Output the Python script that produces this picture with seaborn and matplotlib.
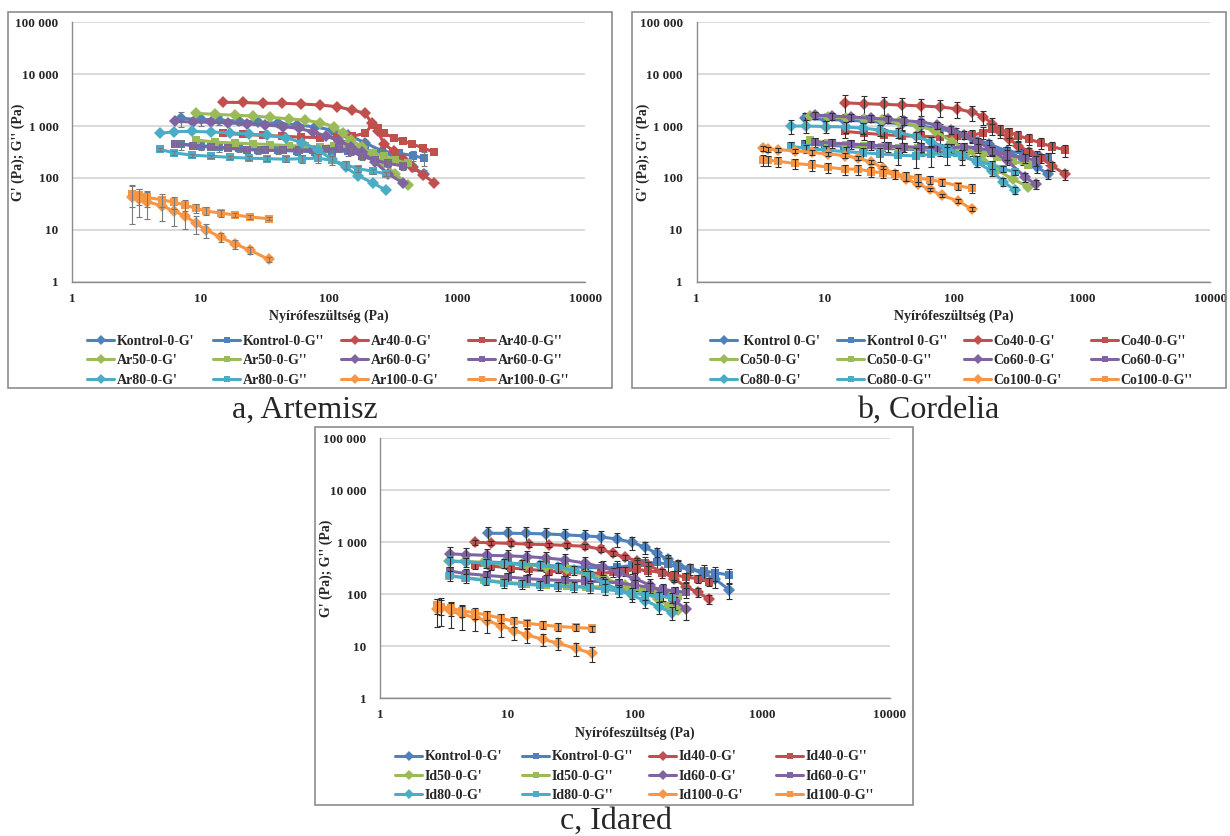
import matplotlib
matplotlib.use('Agg')
import matplotlib.pyplot as plt
import seaborn as sns
from matplotlib.patches import Rectangle
from matplotlib.ticker import NullLocator

# ---------------- Artemisz ----------------
ar_kontrol_x = [7, 10, 14, 20, 28, 40, 56, 78, 105, 140, 190, 260, 350, 450, 550]
ar_kontrol_g1 = [1400, 1350, 1300, 1250, 1200, 1130, 1060, 960, 840, 680, 480, 330, 230, 160, 120]
ar_kontrol_g2 = [450, 420, 390, 370, 350, 340, 330, 320, 320, 330, 340, 320, 300, 270, 240]
ar_kontrol_e1 = [450, 350, 250, 200, 150, 120, 100, 90, 80, 60, 50, 40, 30, 25, 20]
ar_kontrol_e2 = [100, 80, 70, 60, 60, 50, 50, 50, 60, 60, 60, 60, 60, 60, 70]

ar40_x = [15, 21.5, 30.5, 43, 61, 85, 116, 152, 192, 216, 240, 270, 320, 380, 445, 545, 660]
ar40_g1 = [2870, 2850, 2750, 2750, 2660, 2550, 2360, 2040, 1760, 1130, 800, 450, 330, 230, 165, 114, 81]
ar40_g2 = [720, 690, 660, 640, 610, 600, 610, 640, 720, 1050, 900, 720, 600, 520, 450, 380, 310]

ar50_x = [9.2, 13, 18.7, 25.7, 35, 48.6, 65, 86, 110, 128, 150, 180, 220, 270, 330, 417]
ar50_g1 = [1760, 1680, 1620, 1560, 1470, 1380, 1300, 1160, 980, 720, 530, 400, 290, 190, 120, 72]
ar50_g2 = [540, 490, 470, 455, 440, 420, 410, 400, 420, 450, 430, 360, 300, 260, 220, 190]

ar60_x = [6.3, 8.7, 12, 16.5, 23, 32, 44, 58, 75, 95, 120, 150, 180, 230, 290, 380]
ar60_g1 = [1230, 1200, 1180, 1150, 1100, 1050, 980, 900, 780, 640, 520, 400, 320, 200, 120, 80]
ar60_g2 = [460, 420, 390, 370, 350, 340, 340, 345, 350, 360, 370, 330, 260, 220, 190, 170]
ar60_e2 = [60, 50, 40, 40, 40, 40, 40, 40, 40, 50, 60, 50, 40, 30, 30, 30]

ar80_x = [4.8, 6.2, 8.5, 12, 17, 24, 33, 46, 62, 82, 105, 135, 170, 220, 280]
ar80_g1 = [720, 780, 790, 770, 740, 700, 660, 600, 480, 350, 230, 160, 110, 80, 58]
ar80_g2 = [355, 305, 275, 262, 250, 240, 235, 230, 235, 240, 220, 180, 150, 135, 120]
ar80_e2 = [30, 25, 20, 20, 20, 20, 25, 30, 40, 50, 40, 30, 20, 15, 10]

ar100_x = [2.9, 3.3, 3.8, 5.0, 6.2, 7.6, 9.2, 11.1, 14.3, 18.7, 24.5, 34]
ar100_g1 = [43, 40, 35, 29, 23, 18.5, 13.3, 9.9, 7.2, 5.3, 4.0, 2.7]
ar100_g2 = [49, 46, 42, 38, 34, 30, 26, 23, 21, 19.3, 17.6, 16.4]
ar100_e1 = [30, 22, 19, 14, 11, 8, 5, 3, 1.5, 1, 0.6, 0.3]
ar100_e2 = [22, 16, 14, 11, 9, 7, 5, 4, 3, 2, 1.5, 1]

# ---------------- Cordelia ----------------
co_kontrol_x = [7, 10, 14, 20, 28, 40, 56, 78, 105, 140, 190, 260, 350, 450, 545]
co_kontrol_g1 = [1400, 1350, 1300, 1250, 1180, 1100, 1000, 880, 750, 600, 450, 330, 230, 160, 120]
co_kontrol_g2 = [450, 430, 410, 390, 370, 360, 350, 340, 340, 340, 350, 330, 300, 270, 240]
co_kontrol_e1 = [400, 350, 300, 300, 280, 250, 230, 200, 170, 130, 100, 70, 50, 35, 25]
co_kontrol_e2 = [100, 100, 90, 90, 80, 80, 80, 80, 80, 80, 80, 70, 60, 60, 60]

co40_x = [14.3, 20, 29, 40, 56, 78, 106, 140, 170, 200, 230, 270, 320, 390, 480, 590, 740]
co40_g1 = [2800, 2700, 2620, 2540, 2440, 2340, 2150, 1850, 1520, 1120, 800, 560, 420, 320, 240, 170, 118]
co40_g2 = [790, 730, 680, 650, 630, 620, 640, 660, 750, 880, 850, 760, 650, 560, 470, 400, 345]
co40_e1 = [1100, 1050, 1000, 950, 900, 850, 750, 600, 450, 300, 200, 130, 90, 60, 45, 35, 25]
co40_e2 = [200, 190, 180, 170, 160, 160, 160, 170, 190, 200, 190, 170, 150, 130, 110, 100, 90]

co50_x = [7.7, 10.5, 14.5, 20, 28, 38, 53, 72, 98, 130, 170, 220, 290, 380]
co50_g1 = [1560, 1500, 1450, 1380, 1300, 1180, 1020, 800, 500, 330, 210, 140, 95, 68]
co50_g2 = [530, 470, 440, 420, 400, 380, 370, 360, 350, 340, 300, 250, 210, 180]

co60_x = [8.3, 11.3, 16, 22.8, 31, 41, 56, 74, 95, 121, 155, 200, 260, 360, 437]
co60_g1 = [1630, 1560, 1500, 1420, 1340, 1270, 1200, 1050, 850, 680, 500, 340, 220, 105, 75]
co60_g2 = [500, 470, 450, 430, 410, 400, 390, 380, 380, 400, 380, 330, 280, 240, 220]
co60_e1 = [250, 240, 230, 220, 210, 200, 190, 170, 150, 120, 90, 60, 40, 20, 15]
co60_e2 = [100, 100, 90, 90, 90, 80, 80, 80, 80, 80, 80, 70, 60, 50, 50]

co80_x = [5.45, 7.1, 10.2, 14.5, 19.8, 27, 37, 51, 67, 89, 116, 153, 198, 245, 300]
co80_g1 = [1000, 1000, 980, 960, 910, 840, 750, 630, 500, 380, 280, 200, 135, 85, 58]
co80_g2 = [410, 370, 345, 320, 305, 290, 275, 265, 285, 290, 260, 210, 180, 150, 130]
co80_e1 = [300, 280, 260, 240, 220, 200, 170, 140, 110, 80, 60, 40, 25, 15, 10]
co80_e2 = [80, 70, 70, 70, 80, 90, 100, 110, 120, 110, 80, 50, 30, 20, 15]

co100_x = [3.3, 3.6, 4.3, 5.8, 7.9, 10.6, 14.3, 18.2, 23, 28.5, 35, 43, 53, 66, 81, 109, 139]
co100_g1 = [370, 360, 350, 335, 310, 290, 270, 240, 200, 155, 120, 95, 76, 60, 46, 36, 25]
co100_g2 = [225, 220, 210, 190, 178, 160, 148, 148, 132, 126, 120, 108, 100, 92, 84, 70, 64]
co100_e1 = [40, 38, 35, 33, 30, 28, 26, 22, 18, 14, 11, 9, 7, 5, 4, 3, 2]
co100_e2 = [55, 50, 45, 42, 40, 36, 33, 32, 28, 26, 24, 20, 18, 15, 13, 11, 12]

# ---------------- Idared ----------------
id_kontrol_x = [7, 10, 14, 20, 28, 40, 54, 72, 95, 119, 147, 180, 217, 270, 344, 426, 547]
id_kontrol_g1 = [1490, 1490, 1480, 1450, 1390, 1330, 1270, 1150, 1000, 800, 620, 470, 370, 310, 250, 195, 121]
id_kontrol_g2 = [420, 400, 380, 360, 340, 330, 320, 330, 360, 400, 410, 380, 330, 300, 280, 260, 235]
id_kontrol_e1 = [500, 500, 480, 470, 440, 420, 400, 350, 280, 200, 150, 110, 90, 80, 70, 60, 40]
id_kontrol_e2 = [100, 100, 100, 90, 90, 90, 90, 100, 110, 120, 120, 110, 100, 90, 90, 80, 70]

id40_x = [5.5, 7.4, 10.6, 14.7, 21, 29, 40, 54, 67, 83, 103, 127, 163, 202, 249, 309, 383]
id40_g1 = [1000, 980, 950, 920, 900, 870, 840, 740, 610, 515, 440, 360, 270, 200, 140, 110, 80]
id40_g2 = [370, 350, 320, 300, 280, 265, 255, 255, 265, 280, 300, 285, 260, 235, 215, 200, 175]
id40_e1 = [100, 100, 90, 90, 90, 90, 90, 80, 70, 60, 60, 50, 40, 30, 25, 20, 15]
id40_e2 = [60, 55, 50, 50, 50, 50, 50, 50, 50, 60, 150, 60, 50, 45, 40, 35, 30]

id50_x = [3.44, 4.6, 6.5, 9.3, 13.8, 20, 29, 41, 58, 83, 117, 150, 185, 217]
id50_g1 = [440, 430, 410, 390, 370, 340, 300, 250, 200, 150, 110, 80, 60, 50]
id50_g2 = [225, 210, 190, 170, 160, 150, 145, 140, 140, 130, 120, 105, 98, 93]

id60_x = [3.5, 4.7, 6.9, 10, 14.1, 20, 28, 40, 56, 75, 100, 130, 165, 205, 250]
id60_g1 = [600, 580, 560, 550, 530, 500, 460, 400, 330, 260, 200, 150, 110, 75, 52]
id60_g2 = [280, 250, 230, 215, 200, 190, 185, 180, 175, 165, 150, 135, 125, 115, 110]
id60_e1 = [200, 190, 180, 170, 160, 150, 140, 120, 100, 80, 60, 45, 35, 25, 20]
id60_e2 = [60, 50, 45, 40, 40, 40, 40, 40, 40, 35, 35, 30, 30, 25, 25]

id80_x = [3.5, 4.7, 6.8, 9.4, 13, 18, 25, 33, 44, 58, 75, 95, 120, 155, 194]
id80_g1 = [430, 420, 400, 395, 380, 360, 330, 290, 230, 160, 120, 95, 75, 57, 44]
id80_g2 = [230, 205, 183, 165, 155, 150, 145, 140, 135, 125, 115, 105, 98, 92, 88]
id80_e1 = [100, 90, 80, 80, 80, 70, 70, 60, 50, 40, 30, 25, 20, 15, 12]
id80_e2 = [50, 40, 35, 30, 30, 30, 30, 30, 30, 30, 25, 25, 20, 20, 20]

id100_x = [2.8, 3.0, 3.6, 4.4, 5.5, 6.9, 8.9, 11.2, 14.1, 18.9, 25, 34, 46]
id100_g1 = [52, 55, 47, 41, 36, 31, 25, 20, 16.5, 13.6, 11.4, 9.1, 7.3]
id100_g2 = [62, 58, 54, 48, 44, 40, 34.5, 30, 27.7, 25.7, 24, 23, 22]
id100_e1 = [28, 30, 25, 20, 16, 13, 10, 7, 5, 3.5, 3, 2.5, 2.2]
id100_e2 = [20, 18, 15, 12, 10, 8, 7, 6, 5, 4.5, 4, 3.5, 3]

# excel 2007 palette
colors = ['#4F81BD', '#C0504D', '#9BBB59', '#8064A2', '#4BACC6', '#F79646']
y_ticks = [1, 10, 100, 1000, 10000, 100000]
y_ticklabels = ['1', '10', '100', '1 000', '10 000', '100 000']
x_ticks = [1, 10, 100, 1000, 10000]
x_ticklabels = ['1', '10', '100', '1000', '10000']

sns.set_style('white')
plt.rcParams['font.family'] = ['Liberation Serif', 'DejaVu Serif']

W, H = 1230, 836
fig = plt.figure(figsize=(W / 100, H / 100), dpi=100)


def fx(px):
    return px / W


def fy(py):
    return 1 - py / H


panels = [
    dict(
        box=(72.3, 22.3, 585.4, 281.7), frame=(7.5, 12, 612, 388.3),
        leg_x=[87, 213, 341, 468], leg_top=335, ecolor='#7a7a7a',
        xlab_y=316.5, ylab_x=17.8,
        caption='a, Artemisz', cap=(305, 418),
        series=[
            ("Kontrol-0-G'", "Kontrol-0-G''", ar_kontrol_x, ar_kontrol_g1, ar_kontrol_g2, ar_kontrol_e1, ar_kontrol_e2),
            ("Ar40-0-G'", "Ar40-0-G''", ar40_x, ar40_g1, ar40_g2, None, None),
            ("Ar50-0-G'", "Ar50-0-G''", ar50_x, ar50_g1, ar50_g2, None, None),
            ("Ar60-0-G'", "Ar60-0-G''", ar60_x, ar60_g1, ar60_g2, None, ar60_e2),
            ("Ar80-0-G'", "Ar80-0-G''", ar80_x, ar80_g1, ar80_g2, None, ar80_e2),
            ("Ar100-0-G'", "Ar100-0-G''", ar100_x, ar100_g1, ar100_g2, ar100_e1, ar100_e2),
        ]),
    dict(
        box=(696.6, 22.3, 1210.3, 281.7), frame=(631.5, 12, 1226, 388),
        leg_x=[710, 837, 964, 1091], leg_top=335, ecolor='#303030',
        xlab_y=316.5, ylab_x=643.3,
        caption='b, Cordelia', cap=(928, 418),
        series=[
            (" Kontrol 0-G'", "Kontrol 0-G''", co_kontrol_x, co_kontrol_g1, co_kontrol_g2, co_kontrol_e1, co_kontrol_e2),
            ("Co40-0-G'", "Co40-0-G''", co40_x, co40_g1, co40_g2, co40_e1, co40_e2),
            ("Co50-0-G'", "Co50-0-G''", co50_x, co50_g1, co50_g2, None, None),
            ("Co60-0-G'", "Co60-0-G''", co60_x, co60_g1, co60_g2, co60_e1, co60_e2),
            ("Co80-0-G'", "Co80-0-G''", co80_x, co80_g1, co80_g2, co80_e1, co80_e2),
            ("Co100-0-G'", "Co100-0-G''", co100_x, co100_g1, co100_g2, co100_e1, co100_e2),
        ]),
    dict(
        box=(380.4, 438.3, 890, 698.3), frame=(314.5, 427, 913, 805),
        leg_x=[395, 522, 649, 776], leg_top=750.5, ecolor='#303030',
        xlab_y=733, ylab_x=325.8,
        caption='c, Idared', cap=(616, 829),
        series=[
            ("Kontrol-0-G'", "Kontrol-0-G''", id_kontrol_x, id_kontrol_g1, id_kontrol_g2, id_kontrol_e1, id_kontrol_e2),
            ("Id40-0-G'", "Id40-0-G''", id40_x, id40_g1, id40_g2, id40_e1, id40_e2),
            ("Id50-0-G'", "Id50-0-G''", id50_x, id50_g1, id50_g2, None, None),
            ("Id60-0-G'", "Id60-0-G''", id60_x, id60_g1, id60_g2, id60_e1, id60_e2),
            ("Id80-0-G'", "Id80-0-G''", id80_x, id80_g1, id80_g2, id80_e1, id80_e2),
            ("Id100-0-G'", "Id100-0-G''", id100_x, id100_g1, id100_g2, id100_e1, id100_e2),
        ]),
]

for p in panels:
    x0, y0, x1, y1 = p['box']
    ax = fig.add_axes([fx(x0), fy(y1), (x1 - x0) / W, (y1 - y0) / H])
    ax.set_xscale('log')
    ax.set_yscale('log')

    for i, (lab1, lab2, xs, g1, g2, e1, e2) in enumerate(p['series']):
        c = colors[i]
        # G' with diamonds, G'' with squares
        for lab, ys, err, mk, ms in [(lab1, g1, e1, 'D', 6.3), (lab2, g2, e2, 's', 6.0)]:
            sns.lineplot(x=xs, y=ys, ax=ax, color=c, marker=mk, markersize=ms,
                         markeredgewidth=0, linewidth=2.2, label=lab,
                         estimator=None, sort=False, legend=False)
            if err is not None:
                ax.errorbar(xs, ys, yerr=err, fmt='none', ecolor=p['ecolor'],
                            elinewidth=0.8, capsize=2.5, capthick=0.8)

    ax.set_xlim(1, 10000)
    ax.set_ylim(1, 100000)
    ax.set_xticks(x_ticks)
    ax.set_xticklabels(x_ticklabels)
    ax.set_yticks(y_ticks)
    ax.set_yticklabels(y_ticklabels)
    ax.xaxis.set_minor_locator(NullLocator())
    ax.yaxis.set_minor_locator(NullLocator())
    ax.set_axisbelow(True)
    ax.yaxis.grid(True, color='#cfcfcf', linewidth=1.1)
    ax.xaxis.grid(False)
    for s in ['top', 'right']:
        ax.spines[s].set_visible(False)
    for s in ['left', 'bottom']:
        ax.spines[s].set_color('#8c8c8c')
        ax.spines[s].set_linewidth(1.0)
    ax.tick_params(axis='both', which='major', length=4, width=1, color='#8c8c8c',
                   labelsize=9.5, direction='out')
    ax.tick_params(axis='y', pad=6)
    ax.tick_params(axis='x', pad=4)
    for t in ax.get_xticklabels() + ax.get_yticklabels():
        t.set_fontweight('bold')

    ax.set_xlabel('Nyírófeszültség (Pa)', fontsize=10, fontweight='bold', va='center')
    ax.set_ylabel("G' (Pa); G'' (Pa)", fontsize=10, fontweight='bold', va='center')
    ax.xaxis.set_label_coords(0.5, -(p['xlab_y'] - y1) / (y1 - y0))
    ax.yaxis.set_label_coords((p['ylab_x'] - x0) / (x1 - x0), 0.5)

    handles, labels = ax.get_legend_handles_labels()
    # excel fills the legend row by row, so one legend per column
    for j in range(4):
        idx = [j, j + 4, j + 8]
        fig.legend([handles[k] for k in idx], [labels[k] for k in idx],
                   loc='upper left', bbox_to_anchor=(fx(p['leg_x'][j]), fy(p['leg_top'])),
                   frameon=False, borderpad=0, borderaxespad=0, handlelength=1.95,
                   handletextpad=0.2, labelspacing=0.45, markerscale=0.8,
                   prop=dict(weight='bold', size=10))

    fx0, fy0, fx1, fy1 = p['frame']
    fig.add_artist(Rectangle((fx(fx0), fy(fy1)), (fx1 - fx0) / W, (fy1 - fy0) / H,
                             transform=fig.transFigure, fill=False,
                             edgecolor='#8c8c8c', linewidth=1.2))
    fig.text(fx(p['cap'][0]), fy(p['cap'][1]), p['caption'], ha='center', va='baseline',
             fontsize=23)

fig.savefig('out.png', dpi=100, facecolor='white')
